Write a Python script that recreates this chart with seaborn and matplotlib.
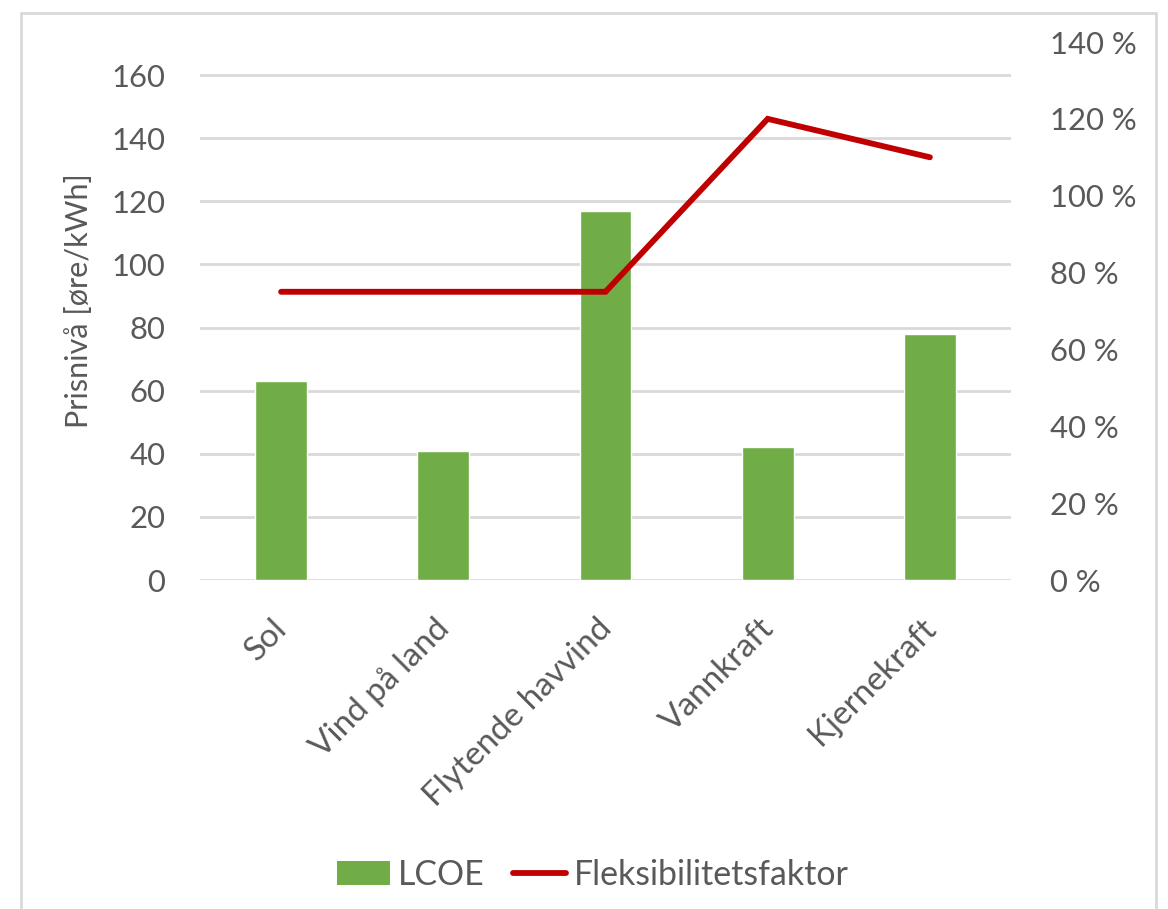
import matplotlib
matplotlib.use("Agg")
import matplotlib.pyplot as plt
from matplotlib.patches import Patch, Rectangle
from matplotlib.lines import Line2D
from matplotlib.ticker import FuncFormatter, MultipleLocator
from matplotlib.transforms import ScaledTranslation
import seaborn as sns
import pandas as pd

categories = ["Sol", "Vind på land", "Flytende havvind", "Vannkraft", "Kjernekraft"]
lcoe = [63, 41, 117, 42, 78]
fleks = [0.75, 0.75, 0.75, 1.20, 1.10]
y_label = "Prisnivå [øre/kWh]"
legend_labels = ["LCOE", "Fleksibilitetsfaktor"]

sns.set_theme(style="white")
FAM = ["Lato", "DejaVu Sans"]
plt.rcParams["font.family"] = FAM
TXT = "#595959"
GREEN = "#70AD47"
RED = "#C00000"

W, H = 1168, 909
fig = plt.figure(figsize=(W / 100, H / 100), dpi=100)
renderer = fig.canvas.get_renderer()


def fit(text, target_px, base=20.0):
    t = fig.text(0, 0, text, fontsize=base)
    w = t.get_window_extent(renderer).width
    t.remove()
    return base * target_px / w


FS_TICK = fit("160", 54)
FS_CAT = fit("Vind på land", 182)
FS_YLAB = fit(y_label, 256)
FS_LEG = fit("Fleksibilitetsfaktor", 276)

ax = fig.add_axes([200 / W, 1 - 580 / H, (1011 - 200) / W, (580 - 42) / H])

df = pd.DataFrame({"cat": categories, "lcoe": lcoe, "fleks": fleks})
sns.barplot(data=df, x="cat", y="lcoe", color=GREEN, saturation=1, width=0.32, ax=ax, zorder=2)
ax.set_ylim(0, 170.5)
ax.set_xlim(-0.5, len(categories) - 0.5)
ax.yaxis.set_major_locator(MultipleLocator(20))
ax.grid(axis="y", color="#D9D9D9", linewidth=2, zorder=0)
ax.set_axisbelow(True)
for s in ax.spines.values():
    s.set_visible(False)
ax.set_xlabel("")
ax.set_ylabel("")
ax.tick_params(axis="y", length=0, pad=25, labelsize=FS_TICK, labelcolor=TXT)
ax.tick_params(axis="x", length=0, pad=36, labelsize=FS_CAT, labelcolor=TXT)
shift = ScaledTranslation(8 / 100, 0, fig.dpi_scale_trans)
for lab in ax.get_xticklabels():
    lab.set_rotation(45)
    lab.set_ha("right")
    lab.set_va("baseline")
    lab.set_rotation_mode("anchor")
    lab.set_transform(lab.get_transform() + shift)

ax2 = ax.twinx()
sns.lineplot(data=df, x="cat", y="fleks", color=RED, linewidth=4.2, ax=ax2,
             sort=False, solid_capstyle="round", solid_joinstyle="miter", zorder=3)
ax2.set_ylim(0, 1.4)
ax2.yaxis.set_major_locator(MultipleLocator(0.2))
ax2.yaxis.set_major_formatter(FuncFormatter(lambda v, p: f"{v*100:.0f} %"))
ax2.tick_params(axis="y", length=0, pad=28, labelsize=FS_TICK, labelcolor=TXT)
ax2.set_ylabel("")
ax2.set_xlabel("")
for s in ax2.spines.values():
    s.set_visible(False)
ax2.grid(False)

fig.text(79 / W, 1 - 301 / H, y_label, rotation=90, ha="center", va="center",
         fontsize=FS_YLAB, color=TXT)

em = FS_LEG * 100 / 72
handles = [Patch(facecolor=GREEN, edgecolor="none"),
           Line2D([0], [0], color=RED, linewidth=4.2, solid_capstyle="round")]
fig.legend(handles, legend_labels, loc="center left", bbox_to_anchor=(337 / W, 1 - 875 / H),
           ncol=2, frameon=False, fontsize=FS_LEG, labelcolor=TXT,
           borderpad=0, borderaxespad=0,
           handlelength=53 / em, handleheight=24 / em, handletextpad=8 / em,
           columnspacing=28 / em)

fig.patches.append(Rectangle((21 / W, -0.01), (1156 - 21) / W, 1.01 - 13 / H,
                             transform=fig.transFigure, fill=False,
                             edgecolor="#D9D9D9", linewidth=2, zorder=-1))

fig.savefig("out.png", dpi=100)
